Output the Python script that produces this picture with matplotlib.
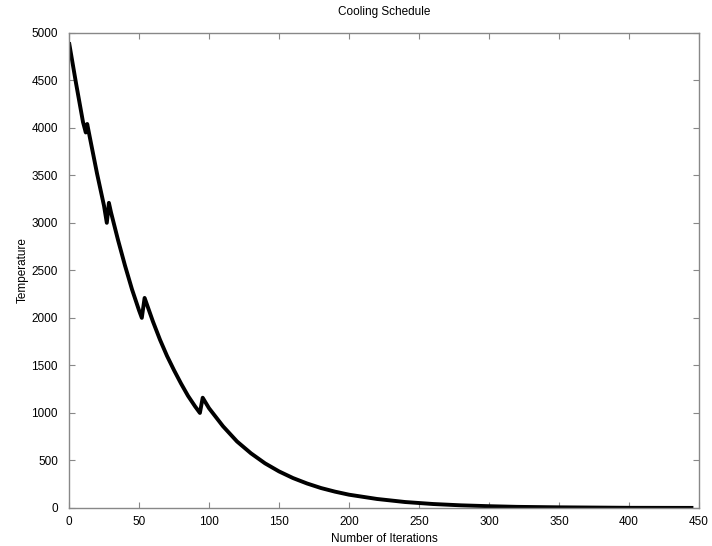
import matplotlib
matplotlib.use("Agg")
import matplotlib.pyplot as plt

iterations = [0, 5, 10, 12, 13, 15, 20, 25, 27, 28.5, 30, 35, 40, 45, 50, 52, 54,
              60, 65, 70, 75, 80, 85, 90, 93.5, 95.5, 100, 110, 120, 130, 140, 150,
              160, 170, 180, 190, 200, 220, 240, 260, 280, 300, 320, 350, 400, 446]
temperature = [4900, 4470, 4060, 3950, 4040, 3890, 3520, 3180, 3000, 3210, 3110, 2820,
               2550, 2300, 2080, 2000, 2210, 1960, 1770, 1600, 1450, 1310, 1180, 1070,
               1000, 1160, 1050, 860, 700, 575, 470, 385, 315, 258, 210, 172, 140, 95,
               63, 42, 28, 19, 12, 7, 2, 1]

title = "Cooling Schedule"
xlabel = "Number of Iterations"
ylabel = "Temperature"
xticks = list(range(0, 451, 50))
yticks = list(range(0, 5001, 500))

plt.rcParams['font.family'] = ['Liberation Sans', 'DejaVu Sans']
fig = plt.figure(figsize=(7.12, 5.46), dpi=100)
ax = fig.add_axes([69/712, 1 - 508/546, 630/712, 475.3/546])
ax.plot(iterations, temperature, color='black', linewidth=2.8,
        solid_joinstyle='round', solid_capstyle='butt')
ax.set_xlim(0, 450)
ax.set_ylim(0, 5000)
ax.set_xticks(xticks)
ax.set_yticks(yticks)
ax.tick_params(direction='in', top=True, right=True, length=4, width=0.8,
               color='#888888', labelsize=8.5)
ax.tick_params(axis='x', pad=6)
ax.tick_params(axis='y', pad=8)
for s in ax.spines.values():
    s.set_color('#888888')
    s.set_linewidth(1.0)
ax.set_title(title, fontsize=8.5, pad=13)
ax.set_xlabel(xlabel, fontsize=8.5, labelpad=3)
ax.set_ylabel(ylabel, fontsize=8.5, labelpad=2)
fig.savefig("out.png", dpi=100)
